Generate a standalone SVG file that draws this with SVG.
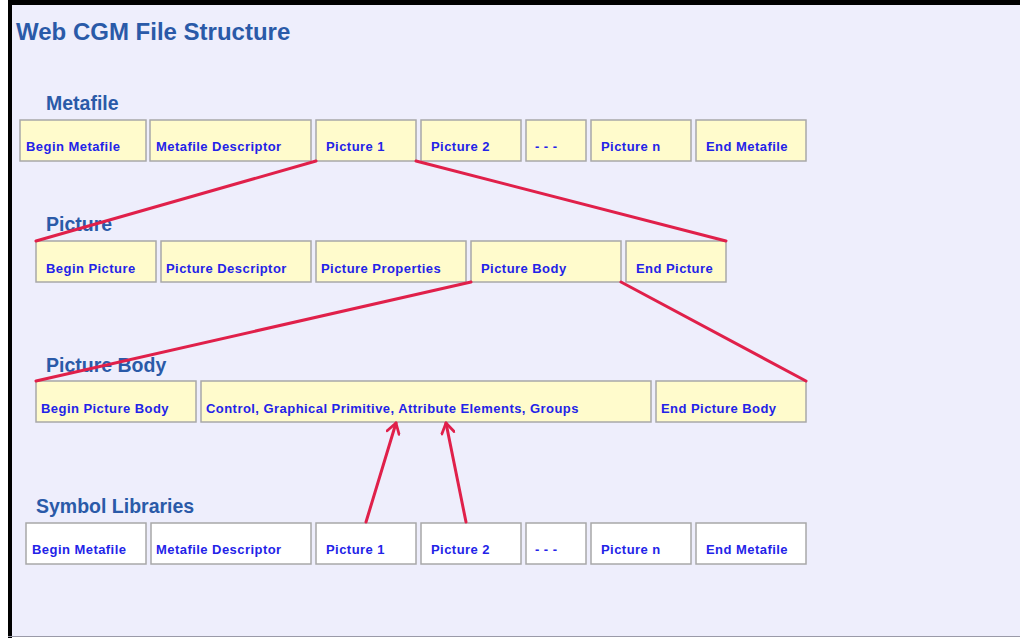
<svg xmlns="http://www.w3.org/2000/svg" width="1020" height="638" viewBox="0 0 1020 638">
  <defs>
    <style>
      .bg { fill: #EEEEFC; }
      .box { fill: #FFFBCC; stroke: #A8A8A8; stroke-width: 1.5; }
      .lib { fill: #FFFFFF; stroke: #A8A8A8; stroke-width: 1.5; }
      .lbl { font-family: "Liberation Sans", Arial, sans-serif; font-weight: bold; font-size: 13px; letter-spacing: 0.45px; fill: #2323E8; }
      .head { font-family: "Liberation Sans", Arial, sans-serif; font-weight: bold; font-size: 19.5px; fill: #2A5AA8; }
      .title { font-family: "Liberation Sans", Arial, sans-serif; font-weight: bold; font-size: 24px; fill: #2A5AA8; }
      .link { stroke: #E0204A; stroke-width: 3; fill: none; stroke-linecap: round; }
    </style>
    <marker id="arrow" viewBox="0 0 12 12" refX="10" refY="6" markerWidth="5" markerHeight="5" orient="auto" markerUnits="strokeWidth">
      <polyline points="2,1 10,6 2,11" fill="none" stroke="#E0204A" stroke-width="2.2" stroke-linecap="round" stroke-linejoin="round"/>
    </marker>
  </defs>

  <!-- frame -->
  <rect x="0" y="0" width="1020" height="638" fill="#FFFFFF"/>
  <rect class="bg" x="8" y="0" width="1012" height="637"/>
  <rect x="8" y="0" width="1012" height="5" fill="#000000"/>
  <rect x="8" y="0" width="4" height="638" fill="#000000"/>
  <line x1="8" y1="636.5" x2="1020" y2="636.5" stroke="#9A9AA8" stroke-width="1"/>

  <text class="title" x="16" y="40">Web CGM File Structure</text>

  <!-- Metafile row -->
  <g id="metafile">
    <text class="head" x="46" y="110">Metafile</text>
    <g id="mf-begin"><rect class="box" x="20" y="120" width="126" height="41"/><text class="lbl" x="26" y="151">Begin Metafile</text></g>
    <g id="mf-desc"><rect class="box" x="150" y="120" width="161" height="41"/><text class="lbl" x="156" y="151">Metafile Descriptor</text></g>
    <g id="mf-pic1"><rect class="box" x="316" y="120" width="100" height="41"/><text class="lbl" x="326" y="151">Picture 1</text></g>
    <g id="mf-pic2"><rect class="box" x="421" y="120" width="100" height="41"/><text class="lbl" x="431" y="151">Picture 2</text></g>
    <g id="mf-dots"><rect class="box" x="526" y="120" width="60" height="41"/><text class="lbl" x="535" y="151">- - -</text></g>
    <g id="mf-picn"><rect class="box" x="591" y="120" width="100" height="41"/><text class="lbl" x="601" y="151">Picture n</text></g>
    <g id="mf-end"><rect class="box" x="696" y="120" width="110" height="41"/><text class="lbl" x="706" y="151">End Metafile</text></g>
  </g>

  <!-- Picture row -->
  <g id="picture">
    <text class="head" x="46" y="231">Picture</text>
    <g id="p-begin"><rect class="box" x="36" y="241" width="120" height="41"/><text class="lbl" x="46" y="273">Begin Picture</text></g>
    <g id="p-desc"><rect class="box" x="161" y="241" width="150" height="41"/><text class="lbl" x="166" y="273">Picture Descriptor</text></g>
    <g id="p-props"><rect class="box" x="316" y="241" width="150" height="41"/><text class="lbl" x="321" y="273">Picture Properties</text></g>
    <g id="p-body"><rect class="box" x="471" y="241" width="150" height="41"/><text class="lbl" x="481" y="273">Picture Body</text></g>
    <g id="p-end"><rect class="box" x="626" y="241" width="100" height="41"/><text class="lbl" x="636" y="273">End Picture</text></g>
  </g>

  <!-- Picture Body row -->
  <g id="picture-body">
    <text class="head" x="46" y="372">Picture Body</text>
    <g id="pb-begin"><rect class="box" x="36" y="381" width="160" height="41"/><text class="lbl" x="41" y="413">Begin Picture Body</text></g>
    <g id="pb-content"><rect class="box" x="201" y="381" width="450" height="41"/><text class="lbl" x="206" y="413">Control, Graphical Primitive, Attribute Elements, Groups</text></g>
    <g id="pb-end"><rect class="box" x="656" y="381" width="150" height="41"/><text class="lbl" x="661" y="413">End Picture Body</text></g>
  </g>

  <!-- Symbol Libraries row -->
  <g id="symbol-libraries">
    <text class="head" x="36" y="513">Symbol Libraries</text>
    <g id="sl-begin"><rect class="lib" x="26" y="523" width="120" height="41"/><text class="lbl" x="32" y="554">Begin Metafile</text></g>
    <g id="sl-desc"><rect class="lib" x="151" y="523" width="160" height="41"/><text class="lbl" x="156" y="554">Metafile Descriptor</text></g>
    <g id="sl-pic1"><rect class="lib" x="316" y="523" width="100" height="41"/><text class="lbl" x="326" y="554">Picture 1</text></g>
    <g id="sl-pic2"><rect class="lib" x="421" y="523" width="100" height="41"/><text class="lbl" x="431" y="554">Picture 2</text></g>
    <g id="sl-dots"><rect class="lib" x="526" y="523" width="60" height="41"/><text class="lbl" x="535" y="554">- - -</text></g>
    <g id="sl-picn"><rect class="lib" x="591" y="523" width="100" height="41"/><text class="lbl" x="601" y="554">Picture n</text></g>
    <g id="sl-end"><rect class="lib" x="696" y="523" width="110" height="41"/><text class="lbl" x="706" y="554">End Metafile</text></g>
  </g>

  <!-- connectors -->
  <g id="connectors">
    <line class="link" x1="316" y1="161" x2="36" y2="241"/>
    <line class="link" x1="416" y1="161" x2="726" y2="241"/>
    <line class="link" x1="471" y1="282" x2="36" y2="381"/>
    <line class="link" x1="621" y1="282" x2="806" y2="381"/>
    <line class="link" x1="366" y1="522" x2="396" y2="423" marker-end="url(#arrow)"/>
    <line class="link" x1="466" y1="522" x2="446" y2="423" marker-end="url(#arrow)"/>
  </g>
</svg>
